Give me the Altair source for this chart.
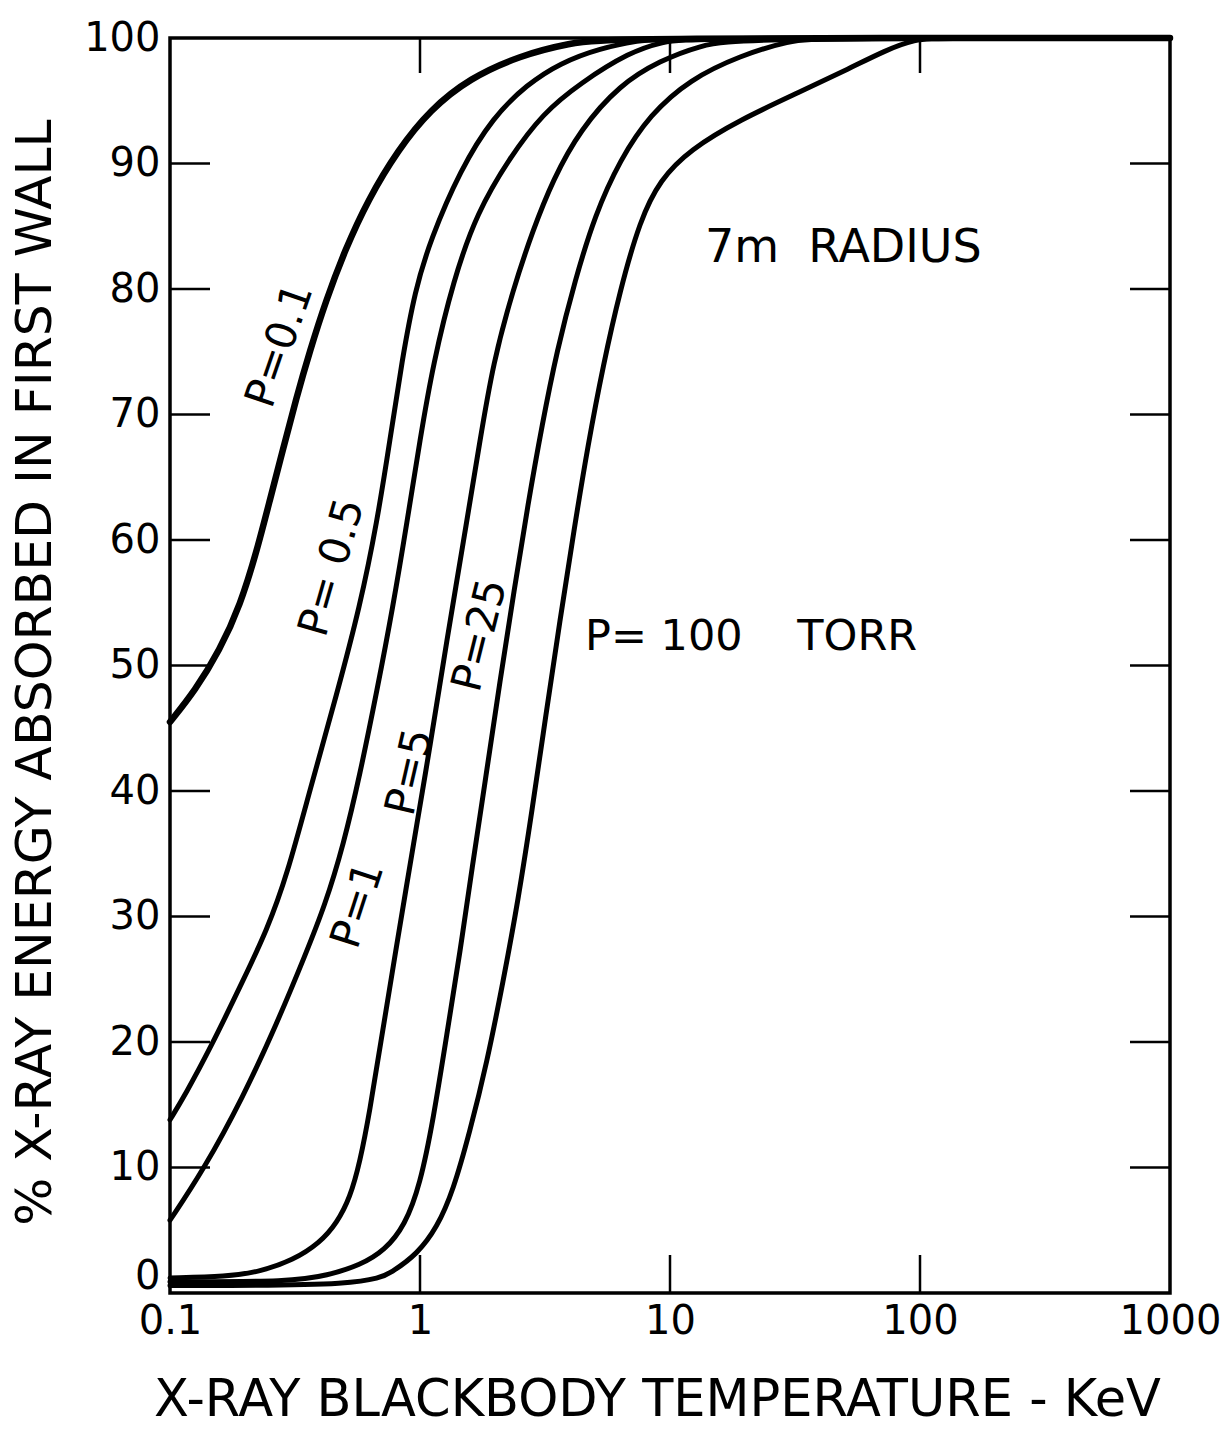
import altair as alt
import pandas as pd

# ---------------- data ----------------
SERIES = ["P=0.1", "P=0.5", "P=1", "P=5", "P=25", "P=100"]

T_P01 = [0.1, 0.126, 0.158, 0.191, 0.223, 0.251, 0.283, 0.319, 0.363, 0.421, 0.501, 0.619, 0.817, 1.10, 1.58, 2.51, 3.98, 5.75, 1000]
V_P01 = [45.5, 48.0, 51.2, 54.8, 59.2, 63.2, 67.2, 71.2, 75.1, 79.1, 83.1, 87.1, 91.1, 94.3, 96.8, 98.6, 99.6, 100, 100]

T_P05 = [0.1, 0.115, 0.145, 0.196, 0.244, 0.294, 0.363, 0.466, 0.575, 0.673, 0.759, 0.847, 0.955, 1.10, 1.45, 1.96, 2.68, 3.63, 5.25, 7.59, 9.12, 1000]
V_P05 = [13.8, 15.8, 19.5, 24.9, 28.9, 33.3, 40.1, 47.8, 54.7, 61.4, 68.0, 74.3, 79.9, 83.9, 89.5, 93.7, 96.3, 98.0, 99.2, 99.8, 100, 100]

T_P1 = [0.1, 0.136, 0.196, 0.268, 0.347, 0.417, 0.494, 0.575, 0.673, 0.780, 0.887, 1.0, 1.13, 1.36, 1.69, 2.29, 3.10, 4.37, 6.92, 9.38, 12.0, 1000]
V_P1 = [5.8, 9.8, 15.6, 21.5, 26.9, 30.9, 35.7, 41.3, 48.0, 54.7, 61.4, 68.0, 74.1, 80.7, 86.1, 90.5, 94.0, 96.4, 98.9, 99.7, 100, 100]

T_P5 = [0.1, 0.169, 0.229, 0.310, 0.398, 0.466, 0.525, 0.575, 0.631, 0.692, 0.794, 0.946, 1.10, 1.28, 1.49, 1.74, 1.96, 2.35, 2.83, 3.40, 4.37, 6.31, 9.12, 13.2, 19.1, 1000]
V_P5 = [1.2, 1.3, 1.7, 2.6, 4.0, 5.6, 7.6, 10.4, 14.6, 19.6, 26.9, 36.0, 43.7, 52.0, 59.8, 68.0, 74.1, 79.9, 84.7, 88.7, 92.7, 96.3, 98.2, 99.4, 100, 100]

T_P25 = [0.1, 0.310, 0.425, 0.575, 0.724, 0.871, 1.0, 1.13, 1.28, 1.45, 1.61, 1.84, 2.09, 2.38, 2.70, 3.08, 3.53, 4.17, 5.01, 6.31, 8.32, 12.0, 19.1, 30.2, 39.8, 1000]
V_P25 = [0.9, 0.9, 1.4, 2.2, 3.4, 5.4, 8.6, 13.8, 20.6, 27.3, 33.7, 41.3, 48.8, 56.0, 62.8, 69.2, 75.1, 80.7, 85.9, 90.3, 93.9, 96.7, 98.6, 99.8, 100, 100]

T_P100 = [0.1, 0.614, 0.780, 0.973, 1.17, 1.36, 1.58, 1.85, 2.15, 2.47, 2.81, 3.19, 3.63, 4.13, 4.70, 5.40, 6.31, 7.59, 9.12, 12.0, 19.1, 33.1, 52.5, 72.4, 95.5, 120, 1000]
V_P100 = [0.6, 0.6, 1.7, 3.1, 5.2, 8.2, 12.8, 18.3, 24.8, 31.3, 38.5, 46.1, 53.6, 60.8, 67.6, 73.9, 79.9, 85.5, 88.7, 91.1, 93.5, 95.7, 97.6, 99.0, 99.9, 100, 100]

Y_TICKS = [0, 10, 20, 30, 40, 50, 60, 70, 80, 90, 100]
Y_INNER_TICKS = [10, 20, 30, 40, 50, 60, 70, 80, 90]
X_TICKS = [0.1, 1, 10, 100, 1000]
X_INNER_TICKS = [1, 10, 100]

LABEL_TEXT = ["P=0.1", "P= 0.5", "P=1", "P=5", "P=25"]
LABEL_T = [0.275, 0.445, 0.565, 0.912, 1.74]
LABEL_V = [75.5, 57.8, 30.9, 41.5, 52.4]
LABEL_ANGLE = [289, 286, 288, 283, 284]

NOTE_TEXT = ["7m\u00a0\u00a0RADIUS", "P=\u00a0100\u00a0\u00a0\u00a0\u00a0TORR"]
NOTE_T = [13.8, 4.57]
NOTE_V = [83.3, 52.3]
NOTE_SIZE = [46, 43]

# ---------------- build tables ----------------
curves = [T_P01, T_P05, T_P1, T_P5, T_P25, T_P100]
vals = [V_P01, V_P05, V_P1, V_P5, V_P25, V_P100]
rows = []
for name, ts, vs in zip(SERIES, curves, vals):
    for i, (t, v) in enumerate(zip(ts, vs)):
        rows.append({"P": name, "T": t, "V": v, "i": i})
df = pd.DataFrame(rows)

W, H = 1000, 1255
FONT = "DejaVu Sans"

xs = alt.Scale(type="log", domain=[0.1, 1000], nice=False)
ys = alt.Scale(domain=[0, 100], nice=False, zero=False)

x_axis = alt.Axis(
    values=X_TICKS, format="~g", labelFont=FONT, labelFontSize=40, labelColor="black",
    labelFlush=False, labelOverlap=False, labelBound=False, labelPadding=8,
    labelBaseline="top",
    domain=False, ticks=False, tickSize=0, grid=False,
    title="X-RAY BLACKBODY TEMPERATURE - KeV", titleFont=FONT, titleFontSize=51,
    titleFontWeight="normal", titleColor="black", titleX=487, titleY=107,
    titleBaseline="middle", titleAlign="center",
)
y_axis = alt.Axis(
    values=Y_TICKS, labelFont=FONT, labelFontSize=40, labelColor="black",
    labelPadding=10, labelOverlap=False, labelFlush=False, labelBound=False,
    labelOffset={"condition": {"test": "datum.value == 0", "value": -17}, "value": 0},
    domain=False, ticks=False, tickSize=0, grid=False,
    title="% X-RAY ENERGY ABSORBED IN FIRST WALL", titleFont=FONT, titleFontSize=50.5,
    titleFontWeight="normal", titleColor="black", titleX=-135, titleY=634,
    titleAngle=270, titleBaseline="middle", titleAlign="center",
)


def X(field):
    return alt.X(field, type="quantitative", scale=xs, axis=x_axis)


def Y(field):
    return alt.Y(field, type="quantitative", scale=ys, axis=y_axis)


thin = alt.Chart(df).transform_filter(alt.datum.P != "P=0.1").mark_line(
    interpolate="basis", color="black", strokeWidth=5, strokeCap="round", strokeJoin="round"
).encode(x=X("T"), y=Y("V"), detail="P:N", order="i:Q")

thick = alt.Chart(df).transform_filter(alt.datum.P == "P=0.1").mark_line(
    interpolate="basis", color="black", strokeWidth=6.5, strokeCap="round", strokeJoin="round"
).encode(x=X("T"), y=Y("V"), detail="P:N", order="i:Q")

ydf = pd.DataFrame({"V": Y_INNER_TICKS})
xdf = pd.DataFrame({"T": X_INNER_TICKS})

left_ticks = alt.Chart(ydf).mark_rule(color="black", strokeWidth=2.5).encode(
    y=Y("V"), x=alt.value(0), x2=alt.value(40))
right_ticks = alt.Chart(ydf).mark_rule(color="black", strokeWidth=2.5).encode(
    y=Y("V"), x=alt.value(W - 40), x2=alt.value(W))
bottom_ticks = alt.Chart(xdf).mark_rule(color="black", strokeWidth=2.5).encode(
    x=X("T"), y=alt.value(H - 38), y2=alt.value(H))
top_ticks = alt.Chart(xdf).mark_rule(color="black", strokeWidth=2.5).encode(
    x=X("T"), y=alt.value(0), y2=alt.value(35))

ldf = pd.DataFrame({"text": LABEL_TEXT, "T": LABEL_T, "V": LABEL_V, "a": LABEL_ANGLE})
labels = alt.Chart(ldf).mark_text(font=FONT, fontSize=42, align="center", baseline="middle", color="black").encode(
    x=X("T"), y=Y("V"),
    text="text:N",
    angle=alt.Angle("a:Q", scale=None),
)

ndf = pd.DataFrame({"text": NOTE_TEXT, "T": NOTE_T, "V": NOTE_V, "s": NOTE_SIZE})
notes = alt.Chart(ndf).mark_text(font=FONT, align="left", baseline="middle", color="black").encode(
    x=X("T"), y=Y("V"),
    text="text:N",
    size=alt.Size("s:Q", scale=None, legend=None),
)

chart = alt.layer(thin, thick, left_ticks, right_ticks, bottom_ticks, top_ticks, labels, notes).properties(
    width=W, height=H,
    autosize=alt.AutoSizeParams(type="none"),
    padding={"left": 170, "top": 38, "right": 58, "bottom": 138},
    background="white",
).configure_view(stroke="black", strokeWidth=3.5)

chart.save("out.html", embed_options={"renderer": "svg", "actions": False})
